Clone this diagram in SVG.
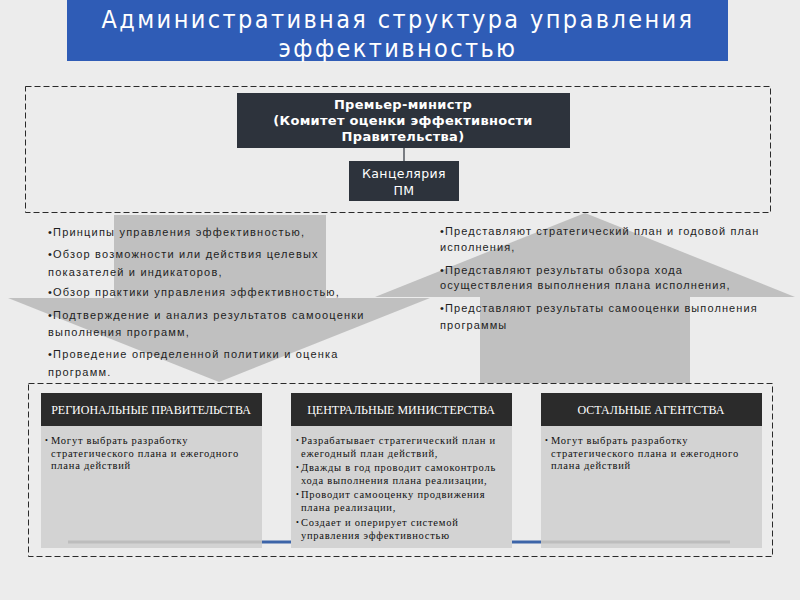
<svg xmlns="http://www.w3.org/2000/svg" width="800" height="600" viewBox="0 0 800 600">
<defs>
<style>
.frame{fill:none;stroke:#2a2a2a;stroke-width:1;stroke-dasharray:6 3}
.dark{fill:#2d333c}
.hdr{fill:#2b2b2b}
.body{fill:#d3d3d3}
.arrow{fill:#9c9c9c;fill-opacity:0.55}
.title{font-family:"DejaVu Sans Condensed","DejaVu Sans",sans-serif;font-size:25px;letter-spacing:2.4px;fill:#ffffff;text-anchor:middle}
.pm{font-family:"DejaVu Sans",sans-serif;font-size:13px;letter-spacing:0.3px;font-weight:bold;fill:#ffffff;text-anchor:middle}
.off{font-family:"DejaVu Sans",sans-serif;font-size:12.5px;letter-spacing:0.4px;fill:#ffffff;text-anchor:middle}
.lt{font-family:"Liberation Sans",Arial,sans-serif;font-size:11px;letter-spacing:1.2px;fill:#1e1e1e}
.rt{font-family:"Liberation Sans",Arial,sans-serif;font-size:11px;letter-spacing:1.1px;fill:#1e1e1e}
.ht{font-family:"Liberation Serif","Times New Roman",serif;font-size:12px;fill:#ffffff;text-anchor:middle}
.bt{font-family:"Liberation Serif","Times New Roman",serif;font-size:10.5px;letter-spacing:0.75px;fill:#111111}
.bl{font-family:"Liberation Serif","Times New Roman",serif;font-size:8px;fill:#111111}
</style>
</defs>
<rect x="0" y="0" width="800" height="600" fill="#ececec"/>

<g id="title">
<rect x="67" y="0" width="661" height="61" fill="#2f5cb6"/>
<text class="title" x="398" y="28">Административная структура управления</text>
<text class="title" x="398" y="57">эффективностью</text>
</g>

<g id="arrow-down">
<polygon class="arrow" points="114,215 326,215 326,298 430,298 219,382 8,298 114,298"/>
</g>
<g id="arrow-up">
<polygon class="arrow" points="585,213 795,297 690,297 690,383 480,383 480,297 375,297"/>
</g>

<g id="top-frame">
<rect class="frame" x="25.5" y="86.5" width="745" height="126"/>
</g>

<g id="connectors">
<line x1="404" y1="148" x2="404" y2="161" stroke="#2d333c" stroke-width="1.2"/>
</g>

<g id="pm">
<rect class="dark" x="237" y="93" width="333" height="55"/>
<text class="pm" x="403" y="109">Премьер-министр</text>
<text class="pm" x="403" y="125">(Комитет оценки эффективности</text>
<text class="pm" x="403" y="141">Правительства)</text>
</g>

<g id="office">
<rect class="dark" x="349" y="161" width="110" height="40"/>
<text class="off" x="404" y="178">Канцелярия</text>
<text class="off" x="404" y="195">ПМ</text>
</g>

<g id="down-text">
<text class="lt" x="48" y="236">•Принципы управления эффективностью,</text>
<text class="lt" x="48" y="258">•Обзор возможности или действия целевых</text>
<text class="lt" x="48" y="276">показателей и индикаторов,</text>
<text class="lt" x="48" y="296">•Обзор практики управления эффективностью,</text>
<text class="lt" x="48" y="319">•Подтверждение и анализ результатов самооценки</text>
<text class="lt" x="48" y="336">выполнения программ,</text>
<text class="lt" x="48" y="358">•Проведение определенной политики и оценка</text>
<text class="lt" x="48" y="376">программ.</text>
</g>

<g id="up-text">
<text class="rt" x="440" y="235">•Представляют стратегический план и годовой план</text>
<text class="rt" x="440" y="251">исполнения,</text>
<text class="rt" x="440" y="274">•Представляют результаты обзора хода</text>
<text class="rt" x="440" y="289">осуществления выполнения плана исполнения,</text>
<text class="rt" x="440" y="312">•Представляют результаты самооценки выполнения</text>
<text class="rt" x="440" y="329">программы</text>
</g>

<g id="bottom-frame">
<rect class="frame" x="28.5" y="383.5" width="744" height="173"/>
</g>

<g id="regional">
<rect class="body" x="41" y="426" width="221" height="122"/>
<rect class="hdr" x="41" y="393" width="221" height="33"/>
<text class="ht" x="151" y="414">РЕГИОНАЛЬНЫЕ ПРАВИТЕЛЬСТВА</text>
<text class="bl" x="45" y="443">•</text>
<text class="bt" x="51" y="444">Могут выбрать разработку</text>
<text class="bt" x="51" y="456.5">стратегического плана и ежегодного</text>
<text class="bt" x="51" y="469">плана действий</text>
</g>

<g id="central">
<rect class="body" x="291" y="426" width="221" height="122"/>
<rect class="hdr" x="291" y="393" width="221" height="33"/>
<text class="ht" x="401" y="414">ЦЕНТРАЛЬНЫЕ МИНИСТЕРСТВА</text>
<text class="bl" x="296" y="443">•</text>
<text class="bt" x="301" y="444">Разрабатывает стратегический план и</text>
<text class="bt" x="301" y="456.5">ежегодный план действий,</text>
<text class="bl" x="296" y="470">•</text>
<text class="bt" x="301" y="471">Дважды в год проводит самоконтроль</text>
<text class="bt" x="301" y="483.5">хода выполнения плана реализации,</text>
<text class="bl" x="296" y="497">•</text>
<text class="bt" x="301" y="498">Проводит самооценку продвижения</text>
<text class="bt" x="301" y="511">плана реализации,</text>
<text class="bl" x="296" y="525">•</text>
<text class="bt" x="301" y="526">Создает и оперирует системой</text>
<text class="bt" x="301" y="539">управления эффективностью</text>
</g>

<g id="agencies">
<rect class="body" x="541" y="426" width="221" height="122"/>
<rect class="hdr" x="541" y="393" width="221" height="33"/>
<text class="ht" x="651" y="414">ОСТАЛЬНЫЕ АГЕНТСТВА</text>
<text class="bl" x="545" y="443">•</text>
<text class="bt" x="551" y="444">Могут выбрать разработку</text>
<text class="bt" x="551" y="456.5">стратегического плана и ежегодного</text>
<text class="bt" x="551" y="469">плана действий</text>
</g>

<g id="baseline">
<line x1="68" y1="542" x2="262" y2="542" stroke="#bdbdbd" stroke-width="3"/>
<line x1="541" y1="542" x2="730" y2="542" stroke="#bdbdbd" stroke-width="3"/>
<line x1="262" y1="542" x2="291" y2="542" stroke="#3c64a8" stroke-width="3"/>
<line x1="512" y1="542" x2="541" y2="542" stroke="#3c64a8" stroke-width="3"/>
</g>
</svg>
